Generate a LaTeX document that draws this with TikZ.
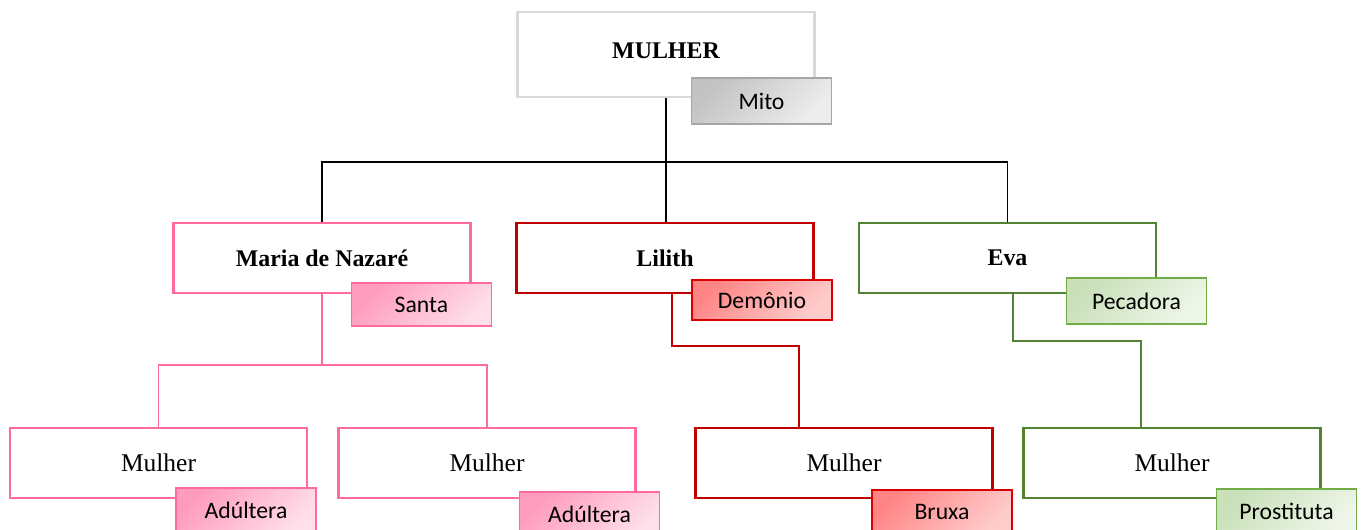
\documentclass[tikz,border=0pt]{standalone}
\usepackage{fontspec}
\setmainfont{Liberation Serif}
\newfontfamily\tagfont{Carlito}
\usetikzlibrary{positioning}
\definecolor{graa}{HTML}{D9D9D9}
\definecolor{graamork}{HTML}{A6A6A6}
\definecolor{rosa}{HTML}{FF6C9C}
\definecolor{roed}{HTML}{C00000}
\definecolor{groen}{HTML}{548235}
\definecolor{groenlys}{HTML}{70AD47}
\tikzset{
  boks/.style={
    rectangle,
    draw, line width=1.6pt,
    fill=white,
    minimum width=5.94cm,
    minimum height=1.4cm,
    text centered,
    font=\fontsize{14.5}{16}\selectfont},
  hoved/.style={boks, font=\bfseries\fontsize{13.6}{15}\selectfont},
  maerke/.style={
    rectangle,
    draw, line width=0.6pt,
    minimum width=2.8cm,
    minimum height=0.88cm,
    text centered,
    font=\tagfont\fontsize{13.5}{15}\selectfont},
  graamaerke/.style={maerke, draw=graamork,
    top color=black!24, bottom color=black!7, shading angle=45},
  rosamaerke/.style={maerke, draw=rosa,
    top color=rosa!68, bottom color=rosa!22, shading angle=45},
  roedmaerke/.style={maerke, draw=red!85!black,
    top color=red!48, bottom color=red!20, shading angle=45},
  groenmaerke/.style={maerke, draw=groenlys,
    top color=groenlys!38, bottom color=groenlys!12, shading angle=45},
  linje/.style={draw, line width=0.8pt},
}

\begin{document}
\begin{tikzpicture}[x=0.02cm, y=-0.02cm]
  \useasboundingbox (0,0) rectangle (1362,529);
  % top
  \node (mulher) [hoved, draw=graa, minimum height=1.7cm] at (666,54.5)
    {\raisebox{0.14cm}{MULHER}};
  \node (mito) [graamaerke, minimum height=0.92cm] at (761.5,101) {Mito};
  % second row
  \node (maria) [hoved, draw=rosa] at (322,258) {Maria de Nazaré};
  \node (santa) [rosamaerke, minimum height=0.86cm] at (421.5,304.5) {Santa};
  \node (lilith) [hoved, draw=roed] at (665,258) {Lilith};
  \node (demonio) [roedmaerke, minimum height=0.8cm] at (762,300) {Demônio};
  \node (eva) [hoved, draw=groen] at (1007.5,258) {Eva};
  \node (pecadora) [groenmaerke, minimum height=0.92cm] at (1136.5,301) {Pecadora};
  % third row
  \node (mulherA) [boks, draw=rosa] at (158.5,463) {Mulher};
  \node (adulteraA) [rosamaerke] at (246,510) {Adúltera};
  \node (mulherB) [boks, draw=rosa] at (487,463) {Mulher};
  \node (adulteraB) [rosamaerke] at (589.5,514) {Adúltera};
  \node (mulherC) [boks, draw=roed] at (844,463) {Mulher};
  \node (bruxa) [roedmaerke] at (942,512) {Bruxa};
  \node (mulherD) [boks, draw=groen] at (1172,463) {Mulher};
  \node (prostituta) [groenmaerke] at (1286.5,511) {Prostituta};

  %% the joints
  \coordinate (jm) at (666,162);
  \coordinate (jmaria) at (322,365);
  \coordinate (klilith) at (799,346);
  \coordinate (keva) at (1141,341);
  \draw[linje] (mulher.south) -- (jm);
  \draw[linje] (maria.north) |- (jm) -| (eva.north);
  \draw[linje] (jm) -- (jm |- lilith.north);
  \draw[linje, draw=rosa] (maria.south) -- (jmaria);
  \draw[linje, draw=rosa] (mulherA.north) |- (jmaria) -| (mulherB.north);
  \draw[linje, draw=roed] ([xshift=0.14cm]lilith.south) |- (klilith)
    -- (klilith |- mulherC.north);
  \draw[linje, draw=groen] ([xshift=0.11cm]eva.south) |- (keva)
    -- (keva |- mulherD.north);
\end{tikzpicture}
\end{document}
